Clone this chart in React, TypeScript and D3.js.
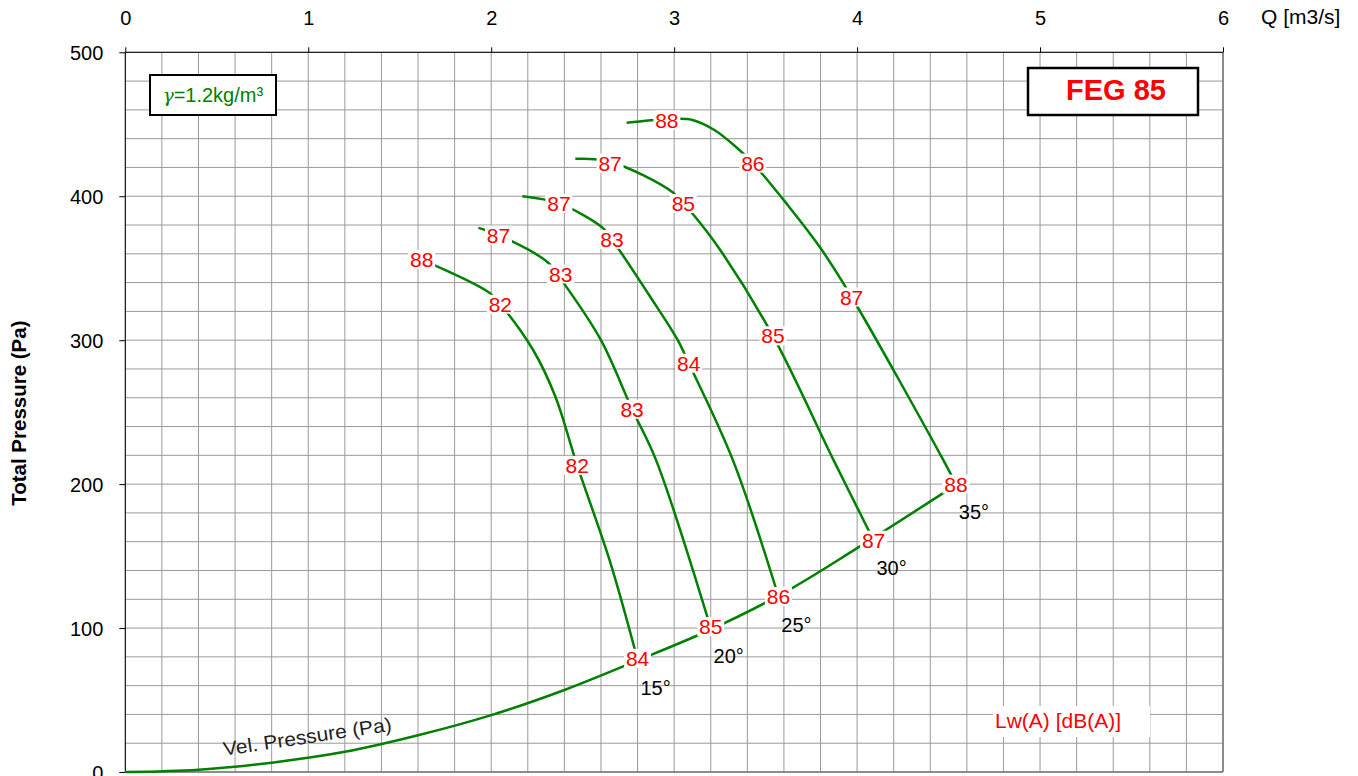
import React, { useEffect, useRef } from "react";
import * as d3 from "d3";

// axis ticks
const qTicks = [0, 1, 2, 3, 4, 5, 6];
const pTicks = [0, 100, 200, 300, 400, 500];
const angleNames = ["15°", "20°", "25°", "30°", "35°"];

// fan curves per blade angle: [Q (m3/s), total pressure (Pa)]
const curve15 = [[1.62, 356], [1.99, 333], [2.05, 325], [2.23, 293], [2.35, 261], [2.47, 213], [2.65, 146], [2.80, 78]];
const curve20 = [[1.93, 378], [2.04, 373], [2.31, 354], [2.40, 339], [2.60, 300], [2.77, 252], [2.90, 217], [3.20, 100]];
const curve25 = [[2.17, 400], [2.37, 395], [2.61, 378], [2.66, 370], [2.87, 330], [3.02, 300], [3.08, 284], [3.32, 217], [3.57, 122]];
const curve30 = [[2.46, 426], [2.65, 424], [2.99, 403], [3.05, 395], [3.10, 388], [3.25, 363], [3.54, 303], [3.87, 217], [4.09, 161]];
const curve35 = [[2.74, 451], [2.96, 453.5], [3.10, 453], [3.22, 446], [3.34, 434], [3.43, 423], [3.62, 394], [3.80, 364], [3.97, 330], [4.47, 217], [4.54, 200]];

// velocity pressure curve
const velPressure = [[0, 0], [0.4, 1.6], [0.8, 6.5], [1.2, 14], [1.6, 25.5], [2.0, 39.5], [2.4, 57], [2.8, 77.5], [3.2, 99], [3.6, 124.5], [4.0, 155.5], [4.54, 199.5]];

// sound power labels on each curve: [Q, P, Lw(A)]
const lw15 = [[1.62, 356, 88], [2.05, 325, 82], [2.47, 213, 82], [2.80, 79, 84]];
const lw20 = [[2.04, 373, 87], [2.38, 346, 83], [2.77, 252, 83], [3.20, 101, 85]];
const lw25 = [[2.37, 395, 87], [2.66, 370, 83], [3.08, 284, 84], [3.57, 122, 86]];
const lw30 = [[2.65, 423, 87], [3.05, 395, 85], [3.54, 303, 85], [4.09, 161, 87]];
const lw35 = [[2.96, 453, 88], [3.43, 423, 86], [3.97, 330, 87], [4.54, 200, 88]];

const curves = [curve15, curve20, curve25, curve30, curve35];
const lwLabels = [lw15, lw20, lw25, lw30, lw35];

const FONT = "'Liberation Sans', Arial, sans-serif";
const GREEN = "#008000";
const RED = "#ff0000";

export default function App() {
  const ref = useRef<SVGSVGElement>(null);

  useEffect(() => {
    const svg = d3.select(ref.current);
    svg.selectAll("*").remove();

    const width = 1358;
    const height = 776;
    const marginLeft = 125.3;
    const marginRight = 135;
    const marginTop = 52.3;
    const marginBottom = 4;

    const x = d3.scaleLinear().domain([0, 6]).range([marginLeft, width - marginRight]);
    const y = d3.scaleLinear().domain([0, 500]).range([height - marginBottom, marginTop]);

    svg.append("rect").attr("width", width).attr("height", height).attr("fill", "#fff");

    // grid
    const grid = svg.append("g").attr("stroke", "#9a9a9a").attr("stroke-width", 1);
    grid
      .selectAll("line.v")
      .data(d3.range(31).map(i => i * 0.2))
      .join("line")
      .attr("x1", d => x(d))
      .attr("x2", d => x(d))
      .attr("y1", y(500))
      .attr("y2", y(0));
    grid
      .selectAll("line.h")
      .data(d3.range(26).map(i => i * 20))
      .join("line")
      .attr("x1", x(0))
      .attr("x2", x(6))
      .attr("y1", d => y(d))
      .attr("y2", d => y(d));

    // frame
    svg.append("line").attr("x1", x(6)).attr("x2", x(6)).attr("y1", y(500)).attr("y2", y(0))
      .attr("stroke", "#777").attr("stroke-width", 1.5);
    svg.append("line").attr("x1", x(0)).attr("x2", x(6)).attr("y1", y(0)).attr("y2", y(0))
      .attr("stroke", "#777").attr("stroke-width", 1.5);

    // top Q axis
    svg
      .append("g")
      .attr("transform", `translate(0,${y(500)})`)
      .call(d3.axisTop(x).tickValues(qTicks).tickSize(5).tickFormat(d3.format("d")))
      .call(g => g.select(".domain").attr("stroke", "#000").attr("d", `M${x(0)},0H${x(6)}`))
      .call(g => g.selectAll("text").attr("font-size", 20).attr("font-family", FONT).attr("fill", "#000").attr("y", -27).attr("dy", 0));

    svg
      .append("text")
      .attr("x", 1261)
      .attr("y", 24)
      .attr("font-size", 21)
      .attr("font-family", FONT)
      .text("Q [m3/s]");

    // left P axis
    svg
      .append("g")
      .attr("transform", `translate(${x(0)},0)`)
      .call(d3.axisLeft(y).tickValues(pTicks).tickSize(6).tickFormat(d3.format("d")))
      .call(g => g.select(".domain").attr("stroke", "#000").attr("d", `M0,${y(500)}V${y(0)}`))
      .call(g => g.selectAll("text").attr("font-size", 20).attr("font-family", FONT).attr("fill", "#000").attr("x", -22).attr("dy", "0.35em"));

    svg
      .append("text")
      .attr("transform", `translate(26,${(y(0) + y(500)) / 2 + 1}) rotate(-90)`)
      .attr("text-anchor", "middle")
      .attr("font-size", 20.5)
      .attr("font-weight", "bold")
      .attr("font-family", FONT)
      .text("Total Pressure (Pa)");

    // density box
    svg.append("rect").attr("x", 150).attr("y", 75).attr("width", 126).attr("height", 40)
      .attr("fill", "#fff").attr("stroke", "#000").attr("stroke-width", 2);
    const gamma = svg
      .append("text")
      .attr("x", 213)
      .attr("y", 102)
      .attr("text-anchor", "middle")
      .attr("font-size", 20)
      .attr("font-family", FONT)
      .attr("fill", GREEN);
    gamma.append("tspan").attr("font-family", "'DejaVu Serif', serif").attr("font-style", "italic").attr("font-size", 18).text("γ");
    gamma.append("tspan").text("=1.2kg/m³");

    // model box
    svg.append("rect").attr("x", 1028).attr("y", 68).attr("width", 170).attr("height", 47)
      .attr("fill", "#fff").attr("stroke", "#000").attr("stroke-width", 2.5);
    svg
      .append("text")
      .attr("x", 1116)
      .attr("y", 100)
      .attr("text-anchor", "middle")
      .attr("font-size", 29)
      .attr("font-weight", "bold")
      .attr("font-family", FONT)
      .attr("fill", RED)
      .text("FEG 85");

    // Lw legend
    svg.append("rect").attr("x", 993).attr("y", 706).attr("width", 157).attr("height", 31).attr("fill", "#fff");
    svg
      .append("text")
      .attr("x", 995)
      .attr("y", 728)
      .attr("font-size", 21)
      .attr("font-family", FONT)
      .attr("fill", RED)
      .text("Lw(A) [dB(A)]");

    const line = d3
      .line<number[]>()
      .x(d => x(d[0]))
      .y(d => y(d[1]))
      .curve(d3.curveCatmullRom.alpha(0.5));

    // velocity pressure
    svg
      .append("path")
      .attr("d", line(velPressure))
      .attr("fill", "none")
      .attr("stroke", GREEN)
      .attr("stroke-width", 2.5);

    svg
      .append("text")
      .attr("transform", `translate(${x(1.0)},${y(20)}) rotate(-8.5)`)
      .attr("text-anchor", "middle")
      .attr("font-size", 19.5)
      .attr("font-family", FONT)
      .attr("fill", "#222")
      .attr("textLength", 170)
      .attr("lengthAdjust", "spacingAndGlyphs")
      .text("Vel. Pressure (Pa)");

    // blade angle curves
    svg
      .append("g")
      .selectAll("path")
      .data(curves)
      .join("path")
      .attr("d", d => line(d))
      .attr("fill", "none")
      .attr("stroke", GREEN)
      .attr("stroke-width", 2.5);

    // Lw labels
    const labels = svg
      .append("g")
      .selectAll("g")
      .data(lwLabels.flat())
      .join("g")
      .attr("transform", d => `translate(${x(d[0])},${y(d[1])})`);
    labels.append("rect").attr("x", -13.5).attr("y", -9.5).attr("width", 27).attr("height", 19).attr("fill", "#fff");
    labels
      .append("text")
      .attr("text-anchor", "middle")
      .attr("dy", "0.36em")
      .attr("font-size", 21)
      .attr("font-family", FONT)
      .attr("fill", RED)
      .text(d => d[2]);

    // angle labels at the curve ends
    svg
      .append("g")
      .selectAll("text")
      .data(curves)
      .join("text")
      .attr("x", d => x(d[d.length - 1][0]) + 18)
      .attr("y", d => y(d[d.length - 1][1]) + 28)
      .attr("dy", "0.36em")
      .attr("text-anchor", "middle")
      .attr("font-size", 20)
      .attr("font-family", FONT)
      .attr("fill", "#000")
      .text((d, i) => angleNames[i]);
  }, []);

  return <svg ref={ref} width={1358} height={776} style={{ position: "absolute", left: 0, top: 0 }} />;
}
